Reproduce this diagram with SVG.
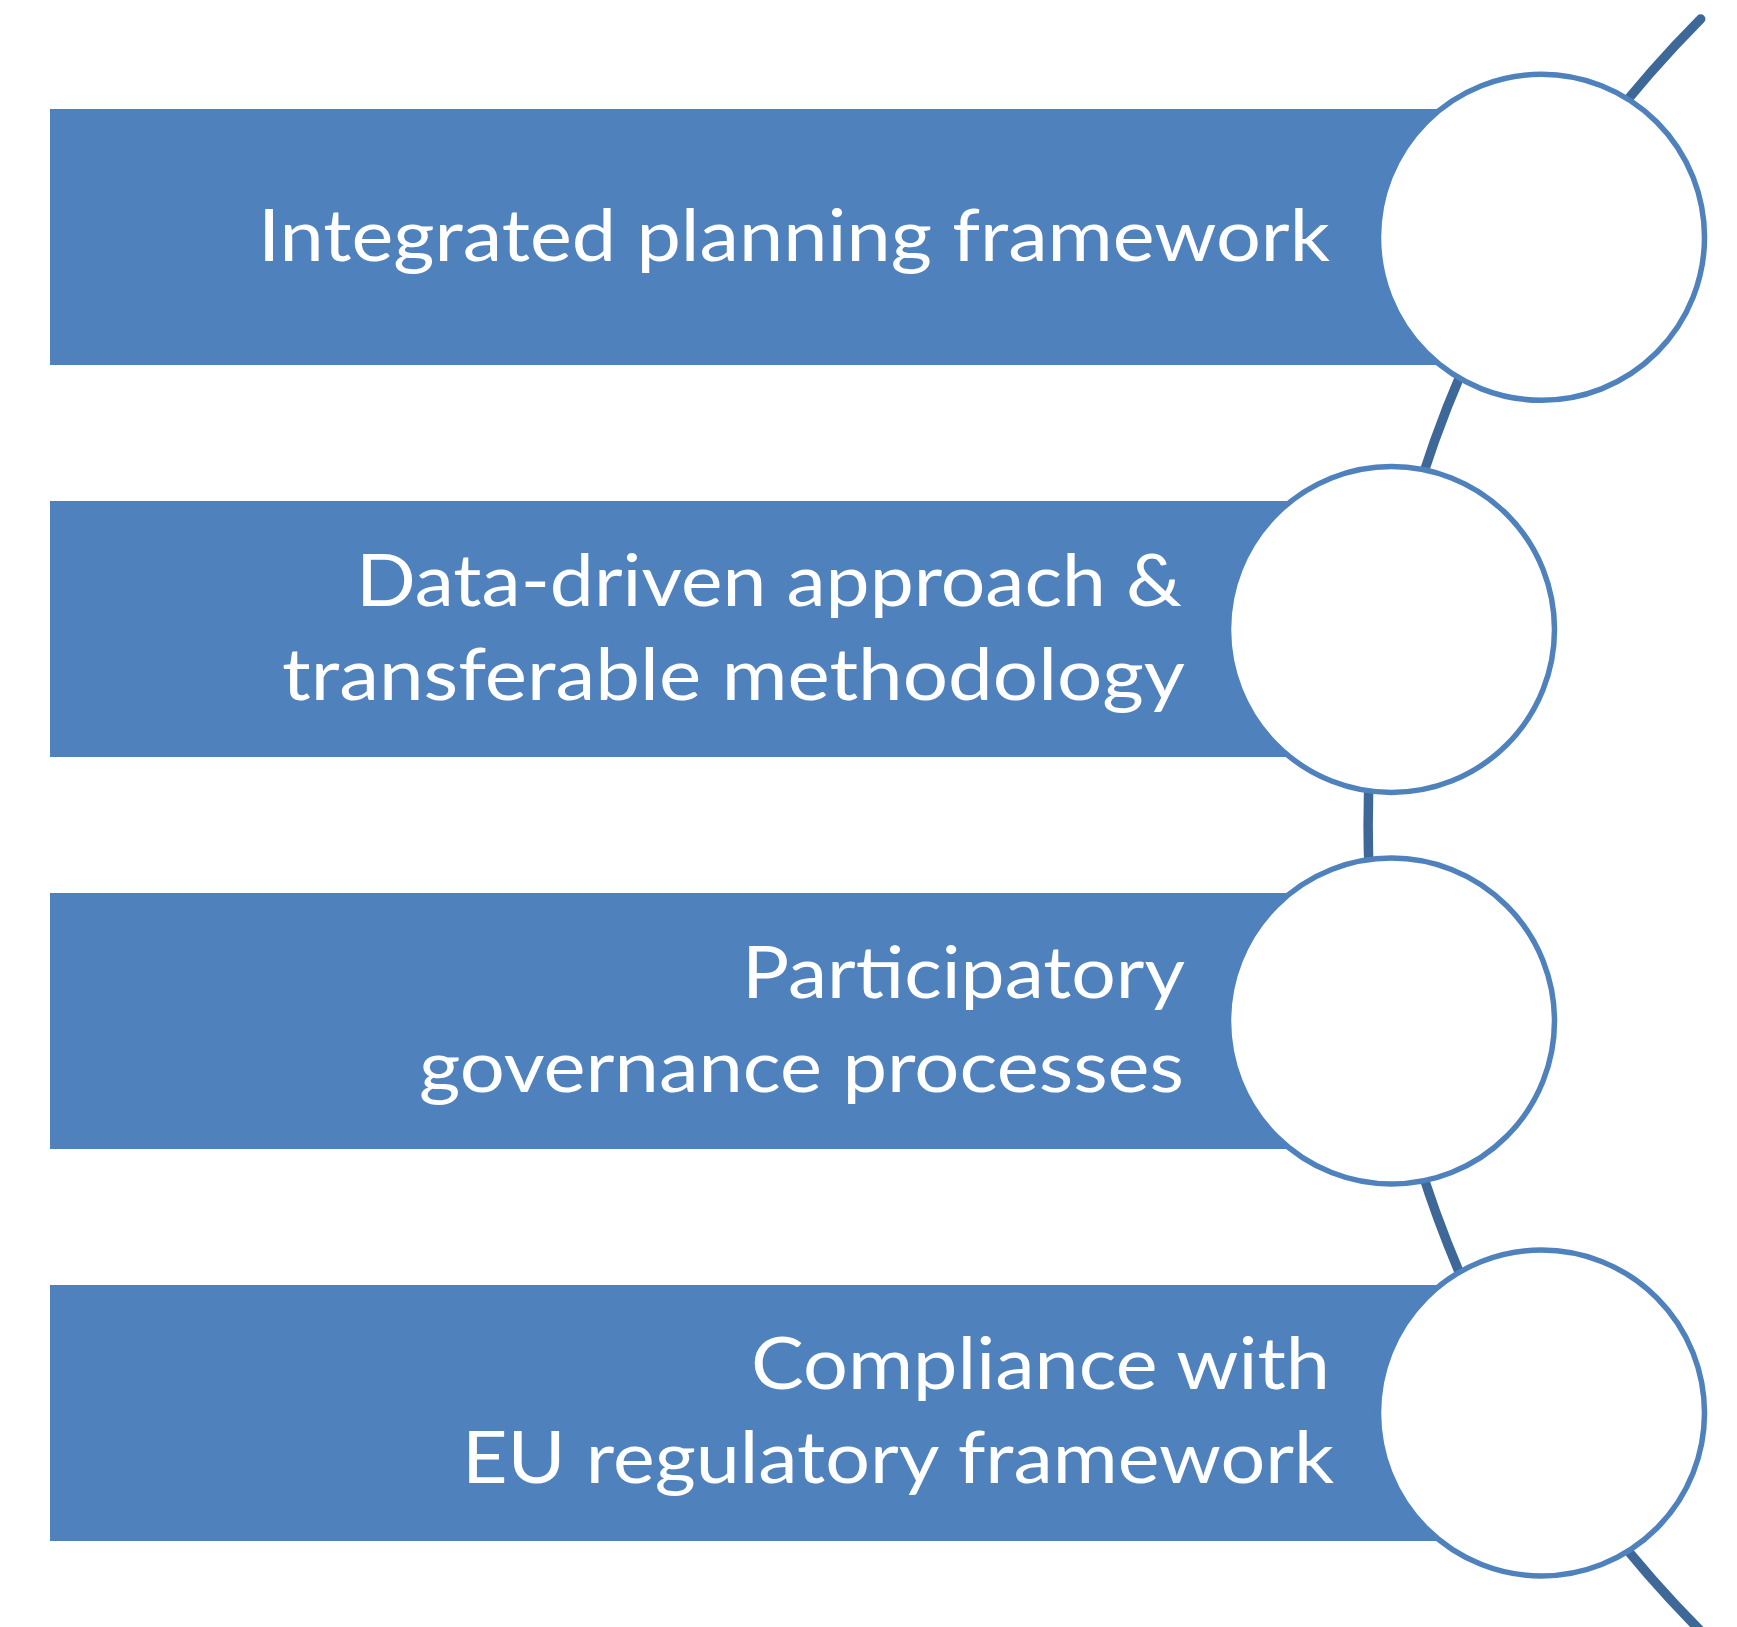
<svg xmlns="http://www.w3.org/2000/svg" width="1737" height="1627" viewBox="0 0 1737 1627">
  <style>
    .bar { fill: #4F81BD; }
    .ring { fill: #FFFFFF; stroke: #4F81BD; stroke-width: 5.5; }
    .lbl { fill: #FFFFFF; font-family: Lato, "Open Sans", "Liberation Sans", sans-serif; font-size: 71px; }
    .link { fill: none; stroke: #3D6898; stroke-width: 9.5; stroke-linecap: round; }
  </style>
  <rect x="0" y="0" width="1737" height="1627" fill="#FFFFFF"/>
  <g id="connectors">
    <path class="link" d="M 1700.7 19 A 1143 1143 0 0 0 1700.7 1631"/>
  </g>
  <g id="node1">
    <rect class="bar" x="50" y="109" width="1492" height="256"/>
    <text class="lbl" x="258" y="261" textLength="1072" lengthAdjust="spacingAndGlyphs">Integrated planning framework</text>
    <circle class="ring" cx="1541.5" cy="237.3" r="163"/>
  </g>
  <g id="node2">
    <rect class="bar" x="50" y="501" width="1342" height="256"/>
    <text class="lbl" x="356" y="606" textLength="826" lengthAdjust="spacingAndGlyphs">Data-driven approach &amp;</text>
    <text class="lbl" x="282" y="700" textLength="903" lengthAdjust="spacingAndGlyphs">transferable methodology</text>
    <circle class="ring" cx="1391.5" cy="629.5" r="163"/>
  </g>
  <g id="node3">
    <rect class="bar" x="50" y="893" width="1342" height="256"/>
    <text class="lbl" x="742" y="998" textLength="443" lengthAdjust="spacingAndGlyphs">Participatory</text>
    <text class="lbl" x="419" y="1092" textLength="765" lengthAdjust="spacingAndGlyphs">governance processes</text>
    <circle class="ring" cx="1391.5" cy="1021" r="163"/>
  </g>
  <g id="node4">
    <rect class="bar" x="50" y="1285" width="1492" height="256"/>
    <text class="lbl" x="751" y="1389" textLength="579" lengthAdjust="spacingAndGlyphs">Compliance with</text>
    <text class="lbl" x="462" y="1483" textLength="872" lengthAdjust="spacingAndGlyphs">EU regulatory framework</text>
    <circle class="ring" cx="1541.5" cy="1413" r="163"/>
  </g>
</svg>
